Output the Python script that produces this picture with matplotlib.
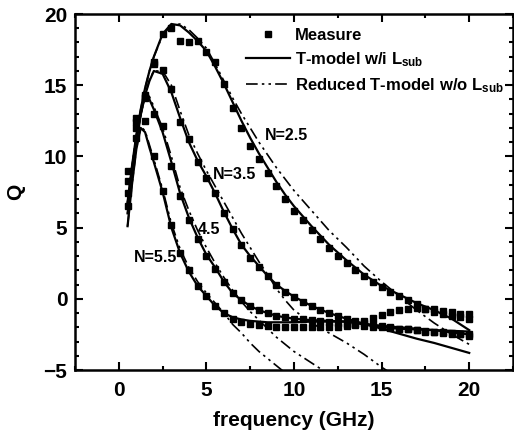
import matplotlib
matplotlib.use("Agg")
import matplotlib.pyplot as plt
from matplotlib.ticker import MultipleLocator

plt.rcParams['font.family'] = ['Liberation Sans', 'DejaVu Sans']
plt.rcParams['font.weight'] = 'bold'
plt.rcParams['mathtext.fontset'] = 'custom'
plt.rcParams['mathtext.rm'] = 'Liberation Sans:bold'
plt.rcParams['mathtext.it'] = 'Liberation Sans:bold'
plt.rcParams['mathtext.bf'] = 'Liberation Sans:bold'

# measured Q, one point every 0.5 GHz
f_meas = [0.5, 1.0, 1.5, 2.0, 2.5, 3.0, 3.5, 4.0, 4.5, 5.0,
          5.5, 6.0, 6.5, 7.0, 7.5, 8.0, 8.5, 9.0, 9.5, 10.0,
          10.5, 11.0, 11.5, 12.0, 12.5, 13.0, 13.5, 14.0, 14.5, 15.0,
          15.5, 16.0, 16.5, 17.0, 17.5, 18.0, 18.5, 19.0, 19.5, 20.0]
meas_25 = [7.4, 12.0, 14.3, 16.6, 18.6, 19.0, 18.1, 18.0, 18.1, 17.3,
           16.6, 15.1, 13.4, 12.0, 10.7, 9.8, 8.8, 7.9, 7.0, 6.2,
           5.5, 4.8, 4.2, 3.6, 3.0, 2.5, 2.0, 1.6, 1.2, 0.8,
           0.5, 0.2, -0.1, -0.4, -0.7, -0.9, -1.1, -1.2, -1.3, -1.4]
meas_35 = [9.0, 12.4, 14.1, 16.5, 16.1, 14.7, 12.4, 11.2, 9.6, 8.5,
           7.4, 6.0, 4.9, 3.8, 2.9, 2.2, 1.6, 1.0, 0.5, 0.1,
           -0.2, -0.5, -0.8, -1.0, -1.2, -1.4, -1.55, -1.7, -1.8, -1.9,
           -2.0, -2.1, -2.15, -2.2, -2.3, -2.35, -2.4, -2.45, -2.5, -2.6]
meas_45 = [8.3, 12.7, 14.2, 13.0, 12.1, 9.3, 7.2, 5.5, 4.2, 3.0,
           2.1, 1.2, 0.4, -0.1, -0.5, -0.8, -1.0, -1.2, -1.3, -1.4,
           -1.45, -1.5, -1.55, -1.6, -1.7, -1.75, -1.85, -1.9, -1.95, -2.0,
           -2.05, -2.1, -2.15, -2.2, -2.25, -2.3, -2.35, -2.4, -2.45, -2.5]
meas_55 = [6.5, 11.3, 12.5, 10.0, 7.6, 5.2, 3.2, 2.0, 0.9, 0.2,
           -0.5, -1.0, -1.4, -1.6, -1.75, -1.85, -1.9, -1.95, -1.95, -2.0,
           -2.0, -2.0, -2.0, -2.0, -1.95, -1.9, -1.75, -1.55, -1.35, -1.15,
           -0.95, -0.8, -0.7, -0.65, -0.7, -0.75, -0.85, -0.95, -1.05, -1.1]

# T-model with L_sub
f_model = [0.5, 0.75, 1.0, 1.25, 1.5, 1.75, 2.0, 2.5, 3.0, 3.5, 4.0, 4.5, 5.0, 5.5,
           6.0, 6.5, 7.0, 7.5, 8.0, 8.5, 9.0, 9.5, 10, 11, 12, 13, 14, 15, 16, 17, 18, 19, 20]
tm_25 = [6.8, 9.3, 11.5, 13.3, 14.8, 16.0, 17.0, 18.6, 19.3, 19.2, 18.7, 18.1, 17.4, 16.3,
         15.1, 13.8, 12.5, 11.3, 10.2, 9.2, 8.2, 7.3, 6.5, 5.1, 3.8, 2.7, 1.7, 0.9, 0.3, -0.3, -0.8, -1.4, -2.2]
tm_35 = [6.6, 9.0, 11.2, 12.9, 14.3, 15.3, 16.0, 15.8, 14.5, 12.7, 11.0, 9.7, 8.6, 7.4,
         6.1, 4.9, 3.8, 3.0, 2.3, 1.6, 1.0, 0.55, 0.15, -0.5, -1.0, -1.4, -1.75, -2.1, -2.45, -2.8, -3.1, -3.45, -3.8]
tm_45 = [6.0, 8.5, 11.0, 13.0, 14.3, 14.0, 13.3, 11.7, 9.6, 7.4, 5.7, 4.3, 3.1, 2.2,
         1.2, 0.4, -0.1, -0.5, -0.8, -1.0, -1.2, -1.3, -1.4, -1.5, -1.55, -1.6, -1.75, -1.9, -2.0, -2.1, -2.2, -2.35, -2.5]
tm_55 = [5.1, 8.0, 10.5, 12.0, 11.7, 10.6, 9.6, 7.5, 5.0, 3.2, 1.9, 0.9, 0.2, -0.5,
         -1.0, -1.3, -1.45, -1.55, -1.6, -1.65, -1.65, -1.65, -1.65, -1.6, -1.6, -1.6, -1.8, -2.0, -2.1, -2.15, -2.2, -2.25, -2.3]

# reduced T-model without L_sub
red_25 = [6.8, 9.3, 11.5, 13.3, 14.8, 16.0, 17.0, 18.5, 19.2, 19.3, 18.9, 18.3, 17.6, 16.5,
          15.3, 14.1, 13.0, 12.0, 11.0, 10.1, 9.2, 8.4, 7.6, 6.2, 4.8, 3.6, 2.3, 1.2, 0.2, -0.8, -1.7, -2.5, -3.2]
f_red35 = f_model[:29]
red_35 = [6.6, 9.0, 11.2, 12.9, 14.3, 15.4, 16.0, 16.0, 15.0, 13.2, 11.5, 10.2, 9.0, 7.9,
          6.8, 5.7, 4.6, 3.6, 2.6, 1.7, 0.7, -0.1, -0.8, -1.7, -2.4, -3.1, -3.9, -4.8, -5.6]
f_red45 = f_model[:25]
red_45 = [6.0, 8.5, 11.0, 13.0, 14.4, 14.2, 13.5, 12.0, 10.0, 7.8, 6.2, 4.8, 3.6, 2.5,
          1.5, 0.6, -0.2, -0.9, -1.5, -2.1, -2.7, -3.2, -3.7, -4.5, -5.3]
f_red55 = f_model[:23]
red_55 = [5.1, 8.0, 10.5, 12.1, 11.8, 10.8, 9.8, 7.7, 5.3, 3.5, 2.2, 1.2, 0.4, -0.3,
          -1.0, -1.8, -2.4, -3.1, -3.7, -4.2, -4.7, -5.2, -5.7]

labels = ["N=2.5", "N=3.5", "4.5", "N=5.5"]
label_pos = [(8.35, 11.5), (5.35, 8.7), (4.5, 4.9), (0.85, 2.9)]

fig = plt.figure(figsize=(5.14, 4.38), dpi=100)
ax = fig.add_axes([75 / 514, 1 - 370 / 438, 438 / 514, 356 / 438])

dash = (0, (7, 2.5, 1.5, 2.5, 1.5, 2.5))
for q in [meas_25, meas_35, meas_45, meas_55]:
    ax.plot(f_meas, q, 's', color='black', markersize=4.5, zorder=3,
            label='Measure' if q is meas_25 else None)
for q in [tm_25, tm_35, tm_45, tm_55]:
    ax.plot(f_model, q, '-', color='black', lw=1.6,
            label=r'T-model w/i L$_{sub}$' if q is tm_25 else None)
for fx, q in [(f_model, red_25), (f_red35, red_35), (f_red45, red_45), (f_red55, red_55)]:
    ax.plot(fx, q, color='black', lw=1.2, linestyle=dash,
            label=r'Reduced T-model w/o L$_{sub}$' if q is red_25 else None)

for txt, (x, y) in zip(labels, label_pos):
    ax.text(x, y, txt, fontsize=11.5, fontweight='bold', ha='left', va='center')

ax.set_xlim(-2.5, 22.5)
ax.set_ylim(-5, 20)
ax.xaxis.set_major_locator(MultipleLocator(5))
ax.xaxis.set_minor_locator(MultipleLocator(2.5))
ax.yaxis.set_major_locator(MultipleLocator(5))
ax.yaxis.set_minor_locator(MultipleLocator(1))
ax.tick_params(which='both', direction='in', top=True, right=True, width=1.5)
ax.tick_params(which='major', length=6, labelsize=15)
ax.tick_params(which='minor', length=3)
ax.tick_params(axis='x', which='major', pad=8)
ax.tick_params(axis='y', which='major', pad=5.5)
for s in ax.spines.values():
    s.set_linewidth(1.8)
for lab in ax.get_xticklabels() + ax.get_yticklabels():
    lab.set_fontweight('bold')

ax.set_xlabel('frequency (GHz)', fontsize=15, fontweight='bold', labelpad=8)
ax.set_ylabel('Q', fontsize=15, fontweight='bold', labelpad=13)

ax.legend(loc='upper left', bbox_to_anchor=(0.391, 0.96), frameon=False,
          borderpad=0, borderaxespad=0, handlelength=2.6, handletextpad=0.3,
          labelspacing=0.42, prop={'size': 12, 'weight': 'bold'})

fig.savefig('out.png', dpi=100)
